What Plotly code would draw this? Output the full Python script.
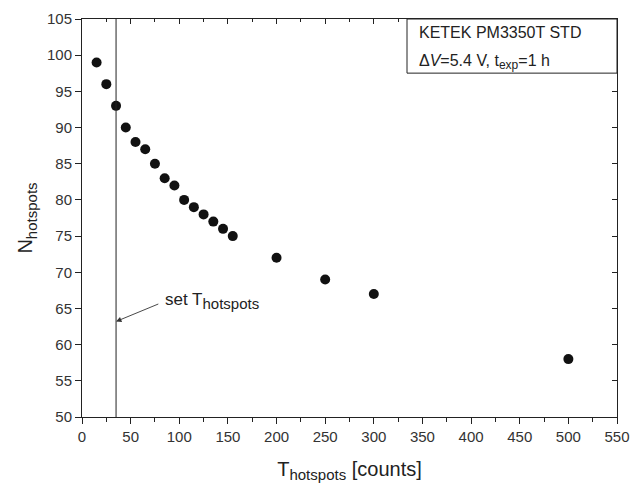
import plotly.graph_objects as go

# data
t_hotspots = [15, 25, 35, 45, 55, 65, 75, 85, 95, 105, 115, 125, 135, 145, 155, 200, 250, 300, 500]
n_hotspots = [99, 96, 93, 90, 88, 87, 85, 83, 82, 80, 79, 78, 77, 76, 75, 72, 69, 67, 58]
set_threshold = 35
arrow_head_y = 63.2
arrow_tail = (80, 65.7)
label_pos = (83, 66)

x_range = [0, 550]
y_range = [50, 105]

FONT = "Liberation Sans, Arial, sans-serif"
AX = "#222222"


def sub(txt, px):
    return f'<sub><span style="font-size:{px}px">{txt}</span></sub>'


fig = go.Figure()
fig.add_trace(go.Scatter(
    x=t_hotspots, y=n_hotspots, mode="markers",
    marker=dict(size=10, color="#111111"), showlegend=False))
# invisible trace for mirror axes
fig.add_trace(go.Scatter(
    x=t_hotspots, y=n_hotspots, mode="markers", xaxis="x2", yaxis="y2",
    marker=dict(size=1, opacity=0), showlegend=False, hoverinfo="skip"))

fig.add_shape(type="line", x0=set_threshold, x1=set_threshold, xref="x",
              y0=0, y1=1, yref="paper", line=dict(color=AX, width=1))

fig.add_annotation(x=set_threshold, y=arrow_head_y, ax=arrow_tail[0], ay=arrow_tail[1],
                   axref="x", ayref="y", xref="x", yref="y", text="",
                   showarrow=True, arrowhead=2, arrowsize=1.2, arrowwidth=0.9, arrowcolor="#333333")
fig.add_annotation(x=label_pos[0], y=label_pos[1], xref="x", yref="y",
                   text="set T" + sub("hotspots", 15), showarrow=False,
                   xanchor="left", yanchor="middle",
                   font=dict(family=FONT, size=17, color="#222222"))

# info box
fig.add_shape(type="rect", xref="paper", yref="paper", x0=0.6075, x1=1.0, y0=0.864, y1=1.0,
              line=dict(color=AX, width=1), fillcolor="white", layer="above")
fig.add_annotation(x=0.626, y=0.967, xref="paper", yref="paper", text="KETEK PM3350T STD",
                   showarrow=False, xanchor="left", yanchor="middle",
                   font=dict(family=FONT, size=16, color="#222222"))
fig.add_annotation(x=0.626, y=0.893, xref="paper", yref="paper",
                   text="Δ<i>V</i>=5.4 V, t" + sub("exp", 12) + "=1 h",
                   showarrow=False, xanchor="left", yanchor="middle",
                   font=dict(family=FONT, size=16, color="#222222"))

common = dict(showgrid=False, zeroline=False, showline=True, linecolor=AX, linewidth=1,
              tickcolor=AX, tickwidth=1, automargin=False)

fig.update_layout(
    width=630, height=484,
    margin=dict(l=82, r=13, t=19, b=67),
    plot_bgcolor="white", paper_bgcolor="white",
    font=dict(family=FONT, color="#222222"),
    xaxis=dict(range=x_range, dtick=50, tick0=0, ticks="outside", ticklen=6,
               minor=dict(dtick=25, ticks="outside", ticklen=4, tickcolor=AX),
               tickfont=dict(size=15, color="#333333"),
               title=dict(text="T" + sub("hotspots", 15) + " [counts]", font=dict(size=20), standoff=17),
               **common),
    yaxis=dict(range=y_range, dtick=5, tick0=50, ticks="outside", ticklen=6,
               tickfont=dict(size=15, color="#333333"),
               title=dict(text="N" + sub("hotspots", 15), font=dict(size=20), standoff=8),
               **common),
    xaxis2=dict(range=x_range, overlaying="x", side="top", dtick=50, tick0=0,
                ticks="inside", ticklen=5, showticklabels=False,
                minor=dict(dtick=25, ticks="inside", ticklen=3, tickcolor=AX),
                **common),
    yaxis2=dict(range=y_range, overlaying="y", side="right", dtick=5, tick0=50,
                ticks="inside", ticklen=5, showticklabels=False, **common),
)

fig.write_html("out.html")
